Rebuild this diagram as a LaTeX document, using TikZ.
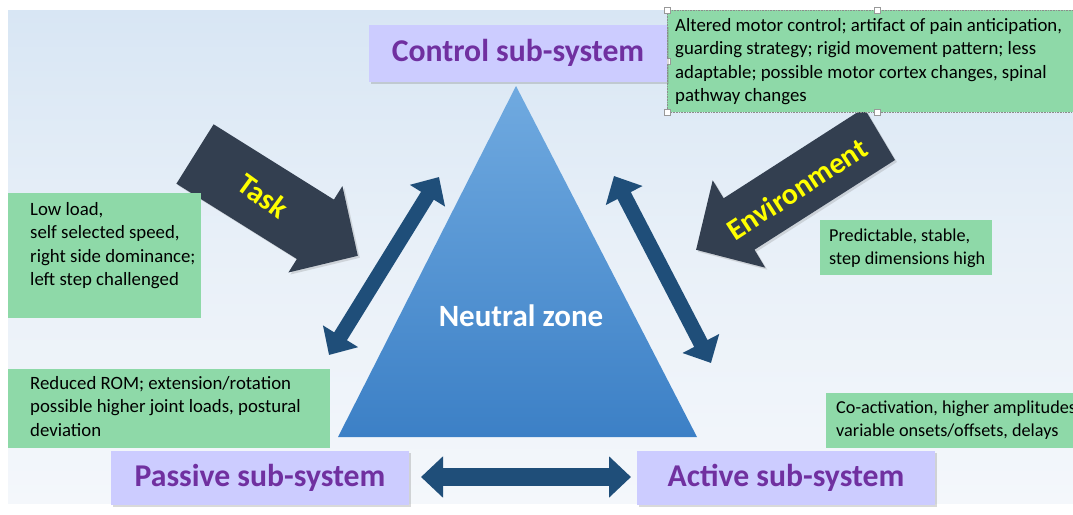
\documentclass[tikz,border=0pt]{standalone}
\usepackage{fontspec}
\setmainfont{Carlito}
\usetikzlibrary{arrows.meta,shadows}
\definecolor{bgtop}{RGB}{216,230,244}
\definecolor{bgbot}{RGB}{244,247,251}
\definecolor{lav}{RGB}{204,204,255}
\definecolor{purp}{RGB}{112,48,160}
\definecolor{grn}{RGB}{142,217,168}
\definecolor{slate}{RGB}{51,63,80}
\definecolor{navy}{RGB}{31,78,121}
\definecolor{tritop}{RGB}{112,170,224}
\definecolor{tribot}{RGB}{60,128,198}
\definecolor{yel}{RGB}{255,255,0}
\begin{document}
\begin{tikzpicture}[x=1pt,y=-1pt,
  sysbox/.style={fill=lav, draw=none, minimum width=298pt, inner sep=0pt,
    font=\bfseries\fontsize{31.7}{36}\selectfont, text=purp,
    drop shadow={opacity=0.3, shadow xshift=2pt, shadow yshift=-2pt}},
  greenbox/.style={fill=grn, draw=none, inner sep=0pt, anchor=north west},
  greentext/.style={anchor=north west, inner sep=0pt, align=left,
    font=\fontsize{18.8}{23.3}\selectfont},
  smallgreentext/.style={greentext, font=\fontsize{18.2}{23.3}\selectfont},
  blockarrow/.style={fill=slate, draw=none,
    drop shadow={opacity=0.25, shadow xshift=2pt, shadow yshift=-2pt}},
  blocklabel/.style={text=yel, font=\bfseries\fontsize{30}{34}\selectfont, inner sep=0pt},
  dblarrow/.style={draw=navy, line width=15pt,
    {Triangle[width=40pt,length=22pt]}-{Triangle[width=40pt,length=22pt]}},
  handle/.style={draw=black!40, fill=white, line width=0.5pt, minimum size=6pt, inner sep=0pt}
]
\useasboundingbox (0,0) rectangle (1073,514);
% background
\shade[top color=bgtop, bottom color=bgbot, middle color=bgbot!60!bgtop] (8,10) rectangle (1073,503);

% triangle
\shade[top color=tritop, bottom color=tribot] (516,86) -- (697,437) -- (338,437) -- cycle;
\node[text=white, font=\bfseries\fontsize{31}{36}\selectfont, inner sep=0pt] (neutral) at (521,316) {Neutral zone};

% double arrows
\coordinate (l1) at (439,177);
\coordinate (l2) at (329,355);
\coordinate (r1) at (614,176);
\coordinate (r2) at (711,363);
\coordinate (b1) at (421,477);
\coordinate (b2) at (631,477);
\draw[dblarrow] (l1) -- (l2);
\draw[dblarrow] (r1) -- (r2);
\draw[dblarrow, line width=18pt] (b1) -- (b2);

% task arrow
\path[blockarrow] (213.6,124.3) -- (333.9,199.6) -- (342.4,186.1) -- (357.8,255.8)
   -- (288.4,272.5) -- (296.9,259) -- (176.4,183.7) -- cycle;
\node[blocklabel, rotate=-36] (task) at (263,196) {Task};

% environment arrow
\path[blockarrow] (864.1,108) -- (895,160) -- (754.5,249.7) -- (765.3,267.7)
   -- (696.1,249.8) -- (712.7,180.3) -- (723.6,198.3) -- cycle;
\node[blocklabel, rotate=33] (env) at (797,189) {Environment};

% green boxes
\node[greenbox, minimum width=410pt, minimum height=102pt] (gtr) at (667,10) {};
\draw[black!45, densely dotted, line width=0.6pt] (gtr.north east) -- (gtr.north west) -- (gtr.south west) -- (gtr.south east);
\node[handle] (h1) at (667,10) {};
\node[handle] (h2) at (877,10) {};
\node[handle] (h3) at (667,61) {};
\node[handle] (h4) at (667,112) {};
\node[handle] (h5) at (877,112) {};
\node[greentext] (ttr) at (675,15) {\strut Altered motor control; artifact of pain anticipation,\\guarding strategy; rigid movement pattern; less\\adaptable; possible motor cortex changes, spinal\\pathway changes};

\node[greenbox, minimum width=193pt, minimum height=125pt] (gl1) at (8,193) {};
\node[greentext] (tl1) at (30,199) {\strut Low load,\\self selected speed,\\right side dominance;\\left step challenged};

\node[greenbox, minimum width=172pt, minimum height=55pt] (gr1) at (820,220) {};
\node[smallgreentext] (tr1) at (829,225) {\strut Predictable, stable,\\step dimensions high};

\node[greenbox, minimum width=322pt, minimum height=79pt] (gl2) at (8,369) {};
\node[greentext] (tl2) at (30,373) {\strut Reduced ROM; extension/rotation\\possible higher joint loads, postural\\deviation};

\node[greenbox, minimum width=250pt, minimum height=55pt] (gr2) at (826,393) {};
\node[smallgreentext] (tr2) at (836,397) {\strut Co-activation, higher amplitudes\\variable onsets/offsets, delays};

% system boxes
\node[sysbox, minimum height=57pt] (control) at (518,53) {Control sub-system};
\node[sysbox, minimum height=54pt] (passive) at (260,477.5) {Passive sub-system};
\node[sysbox, minimum height=54pt] (active) at (786,477.5) {Active sub-system};
\end{tikzpicture}
\end{document}
